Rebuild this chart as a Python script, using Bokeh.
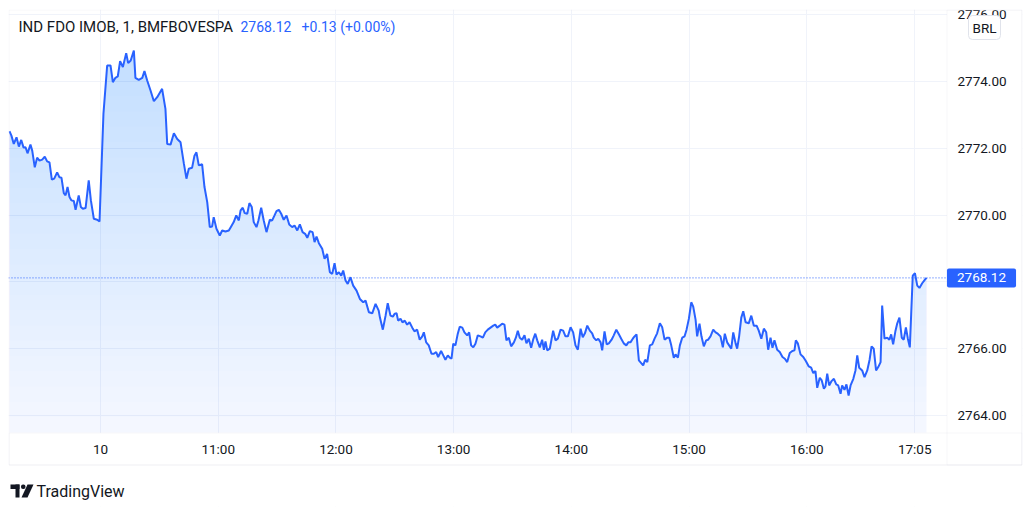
import numpy as np
from bokeh.plotting import figure
from bokeh.models import (FixedTicker, PrintfTickFormatter, Label, BoxAnnotation,
                          PolyAnnotation, Range1d)
from bokeh.embed import file_html
from bokeh.resources import INLINE

# ---------------- data ----------------
symbol = "IND FDO IMOB, 1, BMFBOVESPA"
currency = "BRL"
last_price = 2768.12
change = 0.13
change_pct = 0.00

# bar position in minutes from 10:00 (negative = previous session's last bars)
minutes = [
    -46.4, -45.4, -44.2, -42.8, -41.6, -40.4, -39.2, -38.2, -37.2, -35.7,
    -34.8, -33.5, -32.3, -31.1, -29.7, -28.4, -27.2, -26.0, -24.8, -23.6,
    -22.1, -20.9, -19.9, -18.7, -17.8, -16.8, -15.8, -14.8, -13.6, -12.7,
    -11.1, -10.0, -9.0, -7.6, -6.0, -4.9, -3.4, -1.7, -0.5, 1.5,
    3.4, 5.1, 6.3, 7.6, 8.8, 10.0, 11.4, 13.1, 14.1, 15.4,
    17.0, 17.8, 19.5, 21.3, 22.4, 23.8, 25.5, 27.2, 28.9, 31.4,
    33.1, 34.0, 35.7, 37.4, 39.1, 40.8, 42.5, 43.8, 45.0, 46.7,
    47.9, 48.9, 50.1, 51.8, 53.0, 54.4, 55.7, 56.9, 57.7, 59.1,
    60.8, 62.0, 63.7, 65.4, 66.6, 67.9, 69.2, 70.5, 71.4, 72.5,
    73.5, 74.8, 75.9, 77.1, 78.1, 79.5, 80.5, 81.9, 83.2, 84.6,
    86.3, 87.5, 88.7, 89.7, 90.9, 92.1, 93.4, 94.8, 96.2, 97.7,
    98.9, 100.3, 101.6, 103.0, 104.3, 105.4, 106.7, 108.1, 109.1, 110.1,
    111.3, 113.0, 114.2, 115.5, 116.9, 118.1, 119.3, 120.3, 121.5, 122.7,
    123.7, 124.9, 126.0, 127.4, 128.8, 130.5, 132.2, 133.9, 135.1, 136.8,
    138.5, 140.2, 141.8, 142.4, 143.9, 145.3, 146.4, 147.8, 149.0, 150.0,
    150.9, 151.7, 152.9, 153.9, 155.1, 156.3, 157.5, 158.9, 160.0, 161.4,
    162.7, 164.0, 164.8, 166.0, 167.3, 168.7, 169.9, 171.1, 172.1, 173.6,
    174.7, 175.8, 177.0, 178.0, 178.9, 179.8, 180.9, 182.1, 183.1, 184.4,
    185.5, 186.9, 187.9, 188.9, 190.0, 191.1, 192.3, 193.7, 194.9, 196.1,
    197.4, 198.8, 200.2, 201.2, 202.2, 203.5, 204.7, 205.9, 206.9, 208.1,
    209.3, 210.7, 211.7, 212.7, 213.7, 214.9, 216.1, 217.1, 218.3, 219.5,
    220.5, 221.6, 222.6, 223.9, 225.1, 226.0, 226.8, 227.7, 229.0, 230.7,
    231.9, 233.1, 234.5, 235.8, 237.0, 238.2, 239.6, 240.9, 242.1, 243.3,
    244.7, 245.8, 246.9, 248.1, 249.4, 250.6, 251.4, 252.7, 253.7, 254.9,
    255.7, 256.9, 258.0, 259.1, 260.5, 261.6, 262.9, 264.2, 265.4, 266.7,
    268.0, 269.0, 270.1, 271.3, 272.2, 273.2, 274.4, 275.6, 276.6, 277.6,
    278.7, 280.0, 281.2, 282.4, 283.7, 285.1, 286.3, 287.5, 288.9, 289.9,
    290.9, 292.2, 293.1, 294.3, 295.3, 296.5, 297.7, 298.7, 299.9, 301.1,
    302.1, 303.3, 304.1, 305.3, 306.3, 307.5, 308.7, 309.7, 310.9, 312.3,
    313.5, 314.6, 316.0, 317.2, 318.2, 319.4, 320.4, 321.5, 322.5, 323.7,
    324.5, 325.5, 326.6, 327.6, 328.8, 330.4, 331.7, 333.0, 334.4, 335.5,
    336.8, 338.1, 339.3, 340.3, 341.5, 342.5, 343.5, 344.9, 346.2, 347.6,
    348.8, 350.0, 351.3, 352.6, 353.7, 354.4, 355.4, 356.8, 358.2, 359.5,
    361.0, 362.2, 363.3, 364.4, 365.3, 366.6, 367.6, 368.7, 369.5, 370.4,
    371.4, 372.6, 373.8, 375.0, 376.0, 377.2, 378.0, 379.2, 380.2, 381.3,
    382.3, 383.7, 384.8, 385.7, 386.7, 388.2, 389.4, 390.8, 392.0, 393.0,
    394.1, 395.3, 396.4, 397.6, 398.4, 399.6, 401.0, 402.1, 403.0, 404.0,
    405.2, 406.1, 407.2, 408.4, 409.4, 410.5, 411.5, 412.5, 413.2, 414.0,
    415.1, 416.3, 417.4, 418.8, 420.1, 421.0,
]

prices = [
    2772.51, 2772.38, 2772.13, 2772.33, 2772.05, 2772.25, 2772.02, 2772.03, 2771.85, 2772.11,
    2771.93, 2771.43, 2771.72, 2771.63, 2771.66, 2771.75, 2771.61, 2771.58, 2771.06, 2771.09,
    2771.28, 2771.13, 2771.12, 2770.66, 2770.59, 2770.84, 2770.54, 2770.44, 2770.42, 2770.16,
    2770.59, 2770.24, 2770.19, 2770.21, 2771.04, 2770.44, 2769.89, 2769.86, 2769.81, 2773.03,
    2774.48, 2774.48, 2773.98, 2774.11, 2774.15, 2774.61, 2774.43, 2774.85, 2774.55, 2774.63,
    2774.93, 2774.11, 2774.05, 2774.11, 2774.31, 2774.03, 2773.73, 2773.41, 2773.53, 2773.78,
    2773.18, 2772.13, 2772.11, 2772.45, 2772.28, 2772.18, 2771.54, 2771.09, 2771.39, 2771.42,
    2771.78, 2771.88, 2771.49, 2771.52, 2770.84, 2770.39, 2769.64, 2769.66, 2769.94, 2769.59,
    2769.39, 2769.54, 2769.51, 2769.54, 2769.66, 2769.79, 2769.99, 2769.84, 2770.14, 2770.22,
    2770.06, 2770.04, 2770.36, 2770.24, 2769.79, 2769.64, 2769.84, 2770.22, 2769.84, 2769.49,
    2769.86, 2769.84, 2769.99, 2770.12, 2770.16, 2770.04, 2769.86, 2769.99, 2769.72, 2769.64,
    2769.69, 2769.54, 2769.72, 2769.49, 2769.44, 2769.32, 2769.52, 2769.49, 2769.19, 2769.36,
    2769.16, 2768.99, 2768.69, 2768.84, 2768.29, 2768.24, 2768.56, 2768.22, 2768.29, 2768.19,
    2768.34, 2768.04, 2767.94, 2768.14, 2767.89, 2767.74, 2767.49, 2767.39, 2767.44, 2767.09,
    2767.06, 2767.34, 2767.14, 2766.94, 2766.57, 2766.99, 2767.36, 2766.99, 2766.96, 2767.05,
    2767.06, 2766.84, 2766.90, 2766.79, 2766.84, 2766.72, 2766.79, 2766.63, 2766.52, 2766.57,
    2766.27, 2766.37, 2766.49, 2766.19, 2766.10, 2765.85, 2765.85, 2765.90, 2765.75, 2765.93,
    2765.80, 2765.67, 2765.80, 2765.73, 2765.70, 2766.15, 2766.10, 2766.45, 2766.66, 2766.63,
    2766.49, 2766.40, 2766.49, 2766.10, 2766.04, 2766.15, 2766.40, 2766.37, 2766.33, 2766.49,
    2766.57, 2766.63, 2766.69, 2766.72, 2766.63, 2766.69, 2766.75, 2766.72, 2766.25, 2766.33,
    2766.07, 2766.19, 2766.33, 2766.54, 2766.33, 2766.27, 2766.40, 2766.16, 2766.30, 2766.03,
    2766.27, 2766.45, 2766.25, 2766.04, 2766.27, 2765.97, 2766.22, 2765.95, 2766.00, 2766.54,
    2766.25, 2766.30, 2766.57, 2766.54, 2766.37, 2766.37, 2766.64, 2766.49, 2766.10, 2765.97,
    2766.60, 2766.34, 2766.46, 2766.69, 2766.54, 2766.46, 2766.33, 2766.25, 2766.30, 2766.19,
    2765.95, 2766.52, 2766.13, 2766.16, 2766.27, 2766.40, 2766.57, 2766.43, 2766.30, 2766.16,
    2766.10, 2766.19, 2766.19, 2766.30, 2766.37, 2766.43, 2765.65, 2765.57, 2765.50, 2765.67,
    2765.60, 2766.10, 2766.13, 2766.30, 2766.46, 2766.76, 2766.64, 2766.27, 2766.33, 2766.33,
    2766.10, 2765.73, 2765.83, 2765.73, 2766.10, 2766.33, 2766.37, 2766.57, 2766.90, 2767.39,
    2767.26, 2766.87, 2766.37, 2766.75, 2766.37, 2766.07, 2766.25, 2766.27, 2766.37, 2766.57,
    2766.49, 2766.45, 2766.37, 2766.04, 2766.45, 2766.19, 2766.10, 2766.00, 2766.49, 2766.16,
    2766.00, 2766.37, 2766.93, 2767.12, 2766.79, 2766.76, 2766.99, 2766.69, 2766.69, 2766.54,
    2766.30, 2766.60, 2766.49, 2765.97, 2766.33, 2766.03, 2766.25, 2765.97, 2765.90, 2765.75,
    2765.70, 2765.60, 2765.87, 2765.93, 2765.95, 2766.25, 2766.16, 2765.83, 2765.75, 2765.63,
    2765.47, 2765.43, 2765.27, 2765.33, 2764.83, 2765.13, 2765.05, 2764.80, 2764.87, 2765.25,
    2764.90, 2765.03, 2765.10, 2764.93, 2764.90, 2764.65, 2764.90, 2764.77, 2764.93, 2764.60,
    2764.90, 2765.10, 2765.35, 2765.80, 2765.43, 2765.35, 2765.15, 2765.35, 2765.67, 2766.07,
    2766.00, 2765.35, 2765.45, 2765.60, 2767.29, 2766.30, 2766.33, 2766.27, 2766.43, 2766.13,
    2766.54, 2766.76, 2766.93, 2766.33, 2766.27, 2766.64, 2766.30, 2766.04, 2767.05, 2768.19,
    2768.26, 2767.89, 2767.82, 2767.96, 2768.06, 2768.12,
]

x_tick_minutes = [0, 60, 120, 180, 240, 300, 360, 415]
x_tick_labels = ["10", "11:00", "12:00", "13:00", "14:00", "15:00", "16:00", "17:05"]
y_ticks = [2764, 2766, 2768, 2770, 2772, 2774, 2776]
y_hidden_labels = [2768]   # covered by the last-price tag in the reference

# ---------------- style / layout ----------------
BLUE = "#2962ff"
TEXT = "#131722"
BORDER = "#e0e3eb"
GRID = "#f0f3fa"
FONT = "Roboto"

# page geometry of the frame (figure sits at the page's top-left corner)
PX0, PX1 = 8, 1022      # frame left / right (page px)
PY0, PY1 = 9, 506       # frame top / bottom (page px)
X_SCALE_PX = 946        # left edge of the price scale column
Y_TIME_PX = 432         # top edge of the time scale row
PX_PER_MIN = 1.962
PX_PER_UNIT = 33.4
REF_X_PX, REF_Y_PX, REF_PRICE = 100, 81, 2774.0


def x_of(px):
    return (px - REF_X_PX) / PX_PER_MIN


def y_of(py):
    return REF_PRICE - (py - REF_Y_PX) / PX_PER_UNIT


def sx(px):  # frame-relative screen x
    return px - PX0


def sy(py):  # frame-relative screen y (from the bottom)
    return PY1 - py


X_END = x_of(X_SCALE_PX)
Y_LO = y_of(Y_TIME_PX)

p = figure(frame_width=PX1 - PX0, frame_height=PY1 - PY0,
           min_border_left=PX0, min_border_top=PY0, min_border_right=2, min_border_bottom=2,
           y_axis_location="right",
           x_range=Range1d(x_of(PX0), x_of(PX1)), y_range=Range1d(y_of(PY1), y_of(PY0)),
           output_backend="svg", toolbar_location=None,
           background_fill_color="white", border_fill_color="white",
           outline_line_color=None)

# grids
p.xgrid.ticker = FixedTicker(ticks=x_tick_minutes)
p.ygrid.ticker = FixedTicker(ticks=y_ticks)
p.xgrid.grid_line_color = GRID
p.ygrid.grid_line_color = GRID

# white masks so the grid stays inside the pane
for l, r, t, b in [(sx(X_SCALE_PX + 0.5), sx(PX1), sy(PY0), sy(PY1)),
                   (sx(PX0), sx(PX1), sy(Y_TIME_PX + 0.5), sy(PY1))]:
    p.add_layout(BoxAnnotation(left=l, right=r, top=t, bottom=b, level="underlay",
                               left_units="screen", right_units="screen",
                               top_units="screen", bottom_units="screen",
                               fill_color="white", fill_alpha=1, line_alpha=0))

# gradient area (stacked translucent bands)
x = np.array(minutes)
yv = np.array(prices)
p.varea(x=x, y1=np.full_like(yv, Y_LO), y2=yv, fill_color=BLUE, fill_alpha=0.05)
N = 24
top = yv.max()
a = 1 - (0.75 / 0.95) ** (1.0 / N)
for k in range(1, N + 1):
    L = Y_LO + (top - Y_LO) * k / (N + 1)
    p.varea(x=x, y1=np.full_like(yv, L), y2=np.maximum(yv, L), fill_color=BLUE, fill_alpha=a)

p.line(x, yv, line_color=BLUE, line_width=2)

# last price dotted line
p.segment(x0=[x_of(PX0)], y0=[last_price], x1=[X_END], y1=[last_price],
          line_color=BLUE, line_width=1, line_dash="1 2")

# axes (labels pulled into the bordered scale areas)
p.xaxis.ticker = FixedTicker(ticks=x_tick_minutes)
p.xaxis.major_label_overrides = {t: l for t, l in zip(x_tick_minutes, x_tick_labels)}
p.yaxis.ticker = FixedTicker(ticks=y_ticks)
p.yaxis.formatter = PrintfTickFormatter(format="%.2f")
p.yaxis.major_label_overrides = {t: "" for t in y_hidden_labels}
for ax in (p.xaxis, p.yaxis):
    ax.axis_line_color = None
    ax.major_tick_line_color = None
    ax.minor_tick_line_color = None
    ax.major_tick_out = 0
    ax.major_tick_in = 0
    ax.major_label_text_font = FONT
    ax.major_label_text_font_size = "13.5px"
    ax.major_label_text_color = TEXT
p.xaxis.major_label_standoff = 440 - PY1
p.yaxis.major_label_standoff = 957 - PX1

# borders
for l, r, t, b in [(PX0 + 0.5, PX1 - 0.5, PY0 + 0.5, 464.5),
                   (X_SCALE_PX + 0.5, PX1 - 0.5, PY0 + 0.5, 464.5),
                   (PX0 + 0.5, PX1 - 0.5, Y_TIME_PX + 0.5, 464.5)]:
    p.add_layout(BoxAnnotation(left=sx(l), right=sx(r), top=sy(t), bottom=sy(b),
                               left_units="screen", right_units="screen",
                               top_units="screen", bottom_units="screen",
                               fill_alpha=0, line_color=BORDER, line_width=1))

# legend
p.add_layout(Label(x=sx(18), y=sy(26), x_units="screen", y_units="screen", text=symbol,
                   text_font=FONT, text_font_size="15px", text_color=TEXT,
                   text_baseline="middle", text_align="left"))
p.add_layout(Label(x=sx(240), y=sy(26), x_units="screen", y_units="screen",
                   text=f"{last_price:.2f}", text_font=FONT, text_font_size="14px",
                   text_color=BLUE, text_baseline="middle", text_align="left"))
p.add_layout(Label(x=sx(301), y=sy(26), x_units="screen", y_units="screen",
                   text=f"{change:+.2f} ({change_pct:+.2f}%)", text_font=FONT,
                   text_font_size="14px", text_color=BLUE, text_baseline="middle",
                   text_align="left"))

# currency badge
p.add_layout(Label(x=sx(984), y=sy(27), x_units="screen", y_units="screen", text=currency,
                   text_font=FONT, text_font_size="13.5px", text_color=TEXT,
                   text_baseline="middle", text_align="center",
                   background_fill_color="white", border_line_color=BORDER,
                   border_radius=4, padding=4))

# last price tag
p.add_layout(Label(x=sx(981), y=last_price, x_units="screen", y_units="data",
                   text=f"{last_price:.2f}", text_font=FONT, text_font_size="13.5px",
                   text_color="white", text_baseline="middle", text_align="center",
                   background_fill_color=BLUE, border_radius=2,
                   padding=dict(left=10, right=10, top=5, bottom=5)))

# TradingView logo
LOGO_TOP, LOGO_BOT = 484, 497
def _box(l, r, t, b, **kw):
    p.add_layout(BoxAnnotation(left=sx(l), right=sx(r), top=sy(t), bottom=sy(b),
                               left_units="screen", right_units="screen",
                               top_units="screen", bottom_units="screen",
                               fill_color=TEXT, fill_alpha=1, line_alpha=0, **kw))
_box(10, 19, LOGO_TOP, LOGO_TOP + 4.5)
_box(15, 19, LOGO_TOP, LOGO_BOT)
_box(20.5, 25, LOGO_TOP, LOGO_TOP + 4.5, border_radius=2)
p.add_layout(PolyAnnotation(xs=[sx(27), sx(33), sx(27), sx(21)],
                            ys=[sy(LOGO_TOP), sy(LOGO_TOP), sy(LOGO_BOT), sy(LOGO_BOT)],
                            xs_units="screen", ys_units="screen",
                            fill_color=TEXT, fill_alpha=1, line_alpha=0))
p.add_layout(Label(x=sx(36), y=sy((LOGO_TOP + LOGO_BOT) / 2), x_units="screen",
                   y_units="screen", text="TradingView", text_font=FONT,
                   text_font_size="16px", text_color=TEXT, text_baseline="middle",
                   text_align="left"))

open("out.html", "w").write(file_html(p, INLINE))
